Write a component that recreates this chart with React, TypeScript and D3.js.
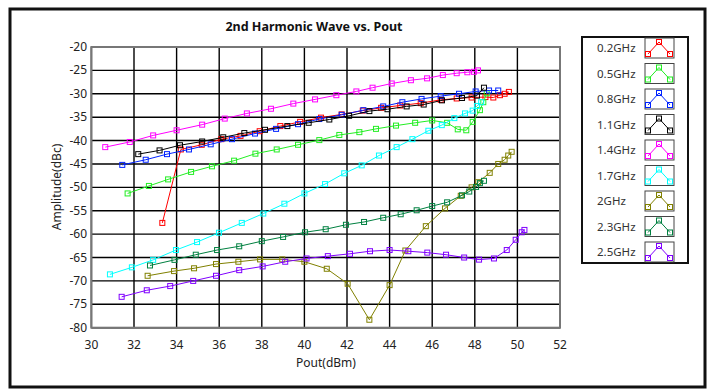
import React from "react";
import * as d3 from "d3";

// Pout (dBm) / amplitude (dBc) per frequency
const pout02 = [33.33, 34.2, 35.18, 36.1, 37.0, 37.9, 38.87, 39.8, 40.78, 41.75, 42.74, 43.6, 44.5, 45.46, 46.4, 47.15, 47.85, 48.5, 48.87, 49.18, 49.4, 49.6];
const amp02 = [-57.6, -41.9, -40.9, -39.7, -39.0, -38.0, -36.9, -36.0, -35.1, -34.4, -33.6, -33.0, -32.5, -32.0, -31.3, -31.0, -30.8, -30.7, -30.8, -30.3, -30.0, -29.6];

const pout05 = [31.7, 32.7, 33.6, 34.68, 35.66, 36.7, 37.7, 38.7, 39.7, 40.7, 41.64, 42.58, 43.36, 44.3, 45.2, 46.0, 46.7, 47.2, 47.6, 47.9, 48.24, 48.4, 48.56];
const amp05 = [-51.3, -49.7, -48.3, -46.7, -45.5, -44.3, -42.8, -41.9, -40.9, -39.9, -38.8, -38.2, -37.5, -36.8, -36.2, -35.7, -36.2, -37.6, -37.8, -36.0, -33.5, -31.8, -29.9];

const pout08 = [31.45, 32.55, 33.55, 34.58, 35.6, 36.6, 37.68, 38.67, 39.7, 40.7, 41.75, 42.77, 43.7, 44.6, 45.5, 46.4, 47.26, 48.04, 48.67, 49.1];
const amp08 = [-45.2, -44.1, -42.9, -41.9, -40.8, -39.7, -38.5, -37.5, -36.5, -35.4, -34.5, -33.5, -32.7, -31.8, -31.1, -30.5, -30.0, -29.5, -29.3, -29.3];

const pout11 = [32.2, 33.2, 34.16, 35.2, 36.19, 37.18, 38.15, 39.2, 40.2, 41.17, 42.1, 43.05, 43.9, 44.8, 45.6, 46.46, 47.4, 48.1, 48.43];
const amp11 = [-42.9, -42.1, -41.0, -40.2, -39.3, -38.4, -37.7, -36.9, -36.2, -35.5, -34.7, -33.7, -33.3, -32.7, -32.3, -31.4, -30.9, -30.4, -28.7];

const pout14 = [30.65, 31.8, 32.9, 34.0, 35.2, 36.26, 37.3, 38.43, 39.48, 40.5, 41.5, 42.44, 43.2, 44.1, 45.0, 45.76, 46.5, 47.15, 47.65, 47.96, 48.15];
const amp14 = [-41.4, -40.3, -38.9, -37.8, -36.6, -35.3, -34.2, -33.2, -32.1, -31.2, -30.3, -29.5, -28.7, -27.8, -27.1, -26.7, -26.0, -25.6, -25.4, -25.3, -25.0];

const pout17 = [30.87, 31.9, 32.9, 33.97, 34.96, 35.99, 37.06, 38.07, 39.06, 40.0, 40.97, 41.87, 42.69, 43.5, 44.33, 45.07, 45.82, 46.45, 47.04, 47.54, 47.9, 48.1, 48.3];
const amp17 = [-68.6, -67.1, -65.5, -63.4, -61.7, -59.7, -57.6, -55.6, -53.5, -51.3, -49.3, -47.0, -45.3, -43.2, -41.4, -39.7, -37.9, -36.7, -35.2, -34.2, -33.6, -32.6, -31.8];

const pout20 = [32.64, 33.88, 34.82, 35.85, 36.9, 37.92, 38.96, 40.0, 41.05, 42.03, 43.05, 44.0, 44.74, 45.7, 46.6, 47.34, 47.85, 48.16, 48.7, 49.1, 49.4, 49.57, 49.73];
const amp20 = [-68.9, -67.9, -67.3, -66.4, -65.9, -65.4, -65.4, -65.9, -67.4, -70.6, -78.3, -70.9, -63.5, -58.3, -54.5, -51.8, -50.0, -48.9, -46.9, -45.0, -44.1, -43.2, -42.4];

const pout23 = [32.75, 33.9, 34.9, 35.9, 36.94, 38.0, 39.0, 40.03, 41.0, 41.95, 42.8, 43.7, 44.52, 45.27, 46.0, 46.7, 47.4, 47.74, 48.06, 48.24, 48.43];
const amp23 = [-66.7, -65.5, -64.4, -63.4, -62.6, -61.5, -60.6, -59.6, -58.95, -58.0, -57.4, -56.5, -55.75, -54.9, -54.0, -53.2, -51.7, -50.9, -49.9, -49.1, -48.6];

const pout25 = [31.42, 32.6, 33.7, 34.78, 35.85, 36.94, 38.04, 39.1, 40.1, 41.1, 42.14, 43.08, 44.0, 44.88, 45.77, 46.65, 47.5, 48.2, 48.9, 49.5, 49.92, 50.2, 50.33];
const amp25 = [-73.4, -72.0, -71.1, -70.0, -68.9, -67.7, -66.9, -65.9, -65.2, -64.7, -64.2, -63.65, -63.4, -63.65, -63.95, -64.4, -65.0, -65.45, -65.2, -63.4, -61.2, -59.6, -59.1];

const labels = ["0.2GHz", "0.5GHz", "0.8GHz", "1.1GHz", "1.4GHz", "1.7GHz", "2GHz", "2.3GHz", "2.5GHz"];
const colors = ["#ff0000", "#22ee22", "#0022ff", "#000000", "#ff00ff", "#00ffff", "#808000", "#008040", "#8000ff"];
const xTicks = d3.range(30, 53, 2);
const yTicks = d3.range(-80, -19, 5);

const series = [
  [pout02, amp02], [pout05, amp05], [pout08, amp08], [pout11, amp11], [pout14, amp14],
  [pout17, amp17], [pout20, amp20], [pout23, amp23], [pout25, amp25],
];

const font = "'Noto Sans', 'Open Sans', sans-serif";

export default function App() {
  const x = d3.scaleLinear().domain([30, 52]).range([91.4, 560]);
  const y = d3.scaleLinear().domain([-80, -20]).range([327.7, 47]);
  const line = d3.line<[number, number]>().x(d => x(d[0])).y(d => y(d[1]));

  // legend sample icon
  const lx = d3.scaleLinear().domain([0, 2]).range([648, 670]);
  const ly = d3.scaleLinear().domain([0, 1]).range([6, -6]);

  return (
    <svg width={714} height={390} style={{ position: "absolute", left: 0, top: 0, background: "#fff" }} fontFamily={font}>
      <rect x={10} y={9} width={695} height={378} fill="#fff" stroke="#111" strokeWidth={3} />
      <text x={314} y={31} textAnchor="middle" fontSize={12.5} fontWeight="bold" fill="#111">2nd Harmonic Wave vs. Pout</text>

      {xTicks.map(t => (
        <line key={"gx" + t} x1={x(t)} x2={x(t)} y1={y(-20)} y2={y(-80)} stroke="#000" strokeWidth={1.4} />
      ))}
      {yTicks.map(t => (
        <line key={"gy" + t} x1={x(30)} x2={x(52)} y1={y(t)} y2={y(t)} stroke="#000" strokeWidth={1.4} />
      ))}
      <rect x={x(30)} y={y(-20)} width={x(52) - x(30)} height={y(-80) - y(-20)} fill="none" stroke="#777" strokeWidth={2} />

      {yTicks.map(t => (
        <text key={"ty" + t} x={87} y={y(t) + 4} textAnchor="end" fontSize={12} fill="#222">{t}</text>
      ))}
      {xTicks.map(t => (
        <text key={"tx" + t} x={x(t)} y={349} textAnchor="middle" fontSize={12} fill="#222">{t}</text>
      ))}
      <text x={326} y={367} textAnchor="middle" fontSize={12} fill="#222">Pout(dBm)</text>
      <text transform={`translate(61,187) rotate(-90)`} textAnchor="middle" fontSize={12} fill="#222">Amplitude(dBc)</text>

      {series.map(([xs, ys], i) => {
        const pts = xs.map((v, j) => [v, ys[j]] as [number, number]);
        return (
          <g key={"s" + i}>
            <path d={line(pts) || ""} fill="none" stroke={colors[i]} strokeWidth={1} />
            {pts.map((p, j) => (
              <rect key={j} x={x(p[0]) - 2.5} y={y(p[1]) - 2.5} width={5} height={5} fill="none" stroke={colors[i]} strokeWidth={1} />
            ))}
          </g>
        );
      })}

      <rect x={582} y={37} width={106} height={226} fill="#fff" stroke="#111" strokeWidth={2} />
      {labels.map((lab, i) => {
        const cy = 48 + i * 25.5;
        const icon: [number, number][] = [[0, 0], [1, 1], [2, 0]];
        const iconLine = d3.line<[number, number]>().x(d => lx(d[0])).y(d => cy + ly(d[1]));
        return (
          <g key={"l" + i}>
            <text x={597} y={cy + 4} fontSize={11.5} fill="#333">{lab}</text>
            <rect x={645} y={cy - 10} width={29} height={20} fill="#fff" stroke="#444" strokeWidth={1} />
            <path d={iconLine(icon) || ""} fill="none" stroke={colors[i]} strokeWidth={1} />
            {icon.map((p, j) => (
              <rect key={j} x={lx(p[0]) - 2.5} y={cy + ly(p[1]) - 2.5} width={5} height={5} fill="none" stroke={colors[i]} strokeWidth={1} />
            ))}
          </g>
        );
      })}
    </svg>
  );
}
